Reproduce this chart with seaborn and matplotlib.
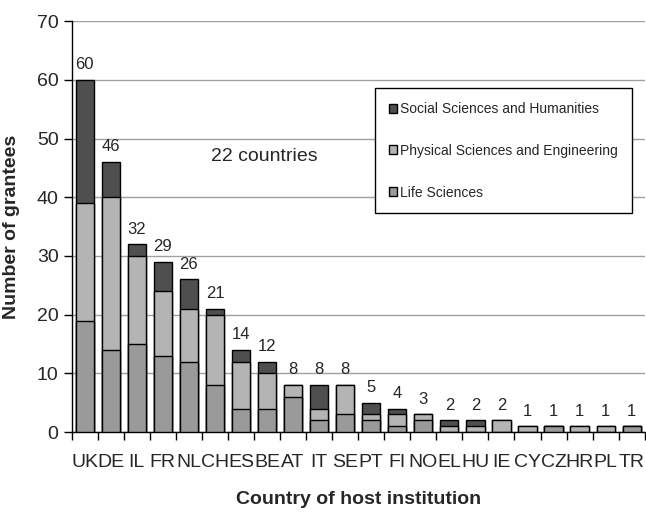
import matplotlib
matplotlib.use('Agg')
import matplotlib.pyplot as plt
from matplotlib.patches import Patch
from matplotlib.ticker import FixedLocator
import numpy as np
import pandas as pd
import seaborn as sns

# === Datos ===
paises = ['UK', 'DE', 'IL', 'FR', 'NL', 'CH', 'ES', 'BE', 'AT', 'IT', 'SE',
          'PT', 'FI', 'NO', 'EL', 'HU', 'IE', 'CY', 'CZ', 'HR', 'PL', 'TR']
life_sciences = [19, 14, 15, 13, 12, 8, 4, 4, 6, 2, 3, 2, 1, 2, 0, 0, 0, 0, 1, 0, 0, 1]
physical_eng = [20, 26, 15, 11, 9, 12, 8, 6, 2, 2, 5, 1, 2, 1, 1, 1, 2, 1, 0, 1, 1, 0]
social_hum = [21, 6, 2, 5, 5, 1, 2, 2, 0, 4, 0, 2, 1, 0, 1, 1, 0, 0, 0, 0, 0, 0]

df = pd.DataFrame({'pais': paises, 'LS': life_sciences, 'PE': physical_eng, 'SH': social_hum})
df['c1'] = df['LS']
df['c2'] = df['LS'] + df['PE']
df['c3'] = df['c2'] + df['SH']

col_sh = '#4f4f4f'
col_pe = '#b4b4b4'
col_ls = '#9a9a9a'

sns.set_style('white')
plt.rcParams['font.family'] = ['Liberation Sans', 'DejaVu Sans']

fig = plt.figure(figsize=(6.46, 5.15), dpi=100)
ax = fig.add_axes([0.111, 0.161, 0.887, 0.798])

# Barras apiladas: se dibuja el acumulado total primero y luego las capas inferiores encima
for col, color in [('c3', col_sh), ('c2', col_pe), ('c1', col_ls)]:
    sns.barplot(data=df, x='pais', y=col, color=color, width=0.7,
                edgecolor='black', linewidth=1, saturation=1, ax=ax, zorder=3)

# Totales encima de cada barra
for i, total in enumerate(df['c3']):
    ax.text(i, total + 1.3, str(total), ha='center', va='bottom', fontsize=12)

ax.set_ylim(0, 70)
ax.set_xlim(-0.5, len(paises) - 0.5)
ax.set_yticks(range(0, 71, 10))
ax.yaxis.grid(True, color='#a0a0a0', linewidth=1, zorder=0)
ax.set_axisbelow(True)

ax.xaxis.set_minor_locator(FixedLocator(np.arange(-0.5, len(paises), 1)))
ax.tick_params(axis='x', which='major', length=0, labelsize=14, pad=16)
ax.tick_params(axis='x', which='minor', length=6, width=1, color='black', direction='out', bottom=True)
ax.tick_params(axis='y', length=6, width=1, color='black', direction='out', left=True, labelsize=14)

for lado in ['top', 'right']:
    ax.spines[lado].set_visible(False)
for lado in ['left', 'bottom']:
    ax.spines[lado].set_color('black')
    ax.spines[lado].set_linewidth(1)

ax.set_xlabel('Country of host institution', fontsize=14, fontweight='bold', labelpad=14)
ax.set_ylabel('Number of grantees', fontsize=14, fontweight='bold', labelpad=12)

ax.text(6.9, 47, '22 countries', fontsize=14, ha='center', va='center')

handles = [Patch(facecolor=col_sh, edgecolor='black', label='Social Sciences and Humanities'),
           Patch(facecolor=col_pe, edgecolor='black', label='Physical Sciences and Engineering'),
           Patch(facecolor=col_ls, edgecolor='black', label='Life Sciences')]
leg = ax.legend(handles=handles, loc='upper right', bbox_to_anchor=(0.977, 0.837),
                borderaxespad=0, fontsize=10, frameon=True, fancybox=False, edgecolor='black',
                handlelength=0.6, handleheight=0.6, handletextpad=0.2,
                labelspacing=2.0, borderpad=1.0, framealpha=1)
leg.get_frame().set_linewidth(1)

fig.savefig('out.png', dpi=100)
